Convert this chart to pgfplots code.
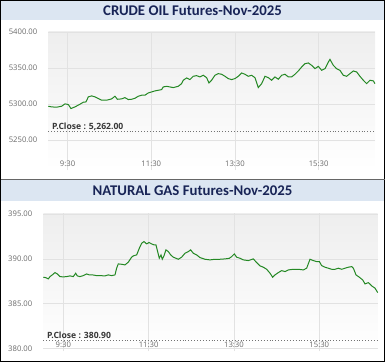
\documentclass[border=0pt]{standalone}
\usepackage{fontspec}
\setmainfont{Open Sans}
\newfontfamily\titlefont{Carlito}
\usepackage{pgfplots}
\pgfplotsset{compat=1.18}
\definecolor{titlebg}{RGB}{220,230,242}
\definecolor{titlefg}{RGB}{24,36,86}
\definecolor{linegreen}{RGB}{36,136,36}
\definecolor{gridc}{RGB}{226,226,226}
\definecolor{tickc}{RGB}{105,105,105}
\definecolor{pclose}{RGB}{55,55,55}
\definecolor{bgtop}{RGB}{238,238,238}
\pgfplotsset{
 panel/.style={
  scale only axis, clip=false,
  axis line style={draw=none},
  tick style={draw=none},
  grid=major, grid style={gridc, line width=0.6pt},
  axis background/.style={top color=bgtop, bottom color=white},
  xtick={30,150,270,390}, xticklabels={9:30,11:30,13:30,15:30},
  ticklabel style={font=\fontsize{7.7}{9}\selectfont, text=tickc},
  xticklabel style={anchor=center, yshift=6.5pt},
  yticklabel style={xshift=-7.5pt},
  /pgf/number format/assume math mode=true,
  /pgf/number format/fixed, /pgf/number format/fixed zerofill,
  /pgf/number format/precision=2,
  /pgf/number format/1000 sep={},
 }
}
\begin{document}
\begin{tikzpicture}
\path (0,0) rectangle (385pt,362pt);
\fill[titlebg] (0.5pt,341.5pt) rectangle (384.5pt,361.5pt);
\fill[titlebg] (0.5pt,161.5pt) rectangle (384.5pt,182pt);
\node[font=\titlefont\bfseries\fontsize{14.8}{16}\selectfont, text=titlefg] at (192.5pt,351.5pt) {CRUDE OIL Futures-Nov-2025};
\node[font=\titlefont\bfseries\fontsize{14.8}{16}\selectfont, text=titlefg] at (192.5pt,171.5pt) {NATURAL GAS Futures-Nov-2025};

\begin{axis}[panel, at={(48.3pt,192pt)}, anchor=south west,
  width=326.7pt, height=138.3pt,
  xmin=2.3, xmax=470.9, ymin=5208.5, ymax=5400.5,
  ytick={5250,5300,5350,5400}]
\addplot[pclose!70, dotted, line width=0.9pt] coordinates {(2.3,5262) (470.9,5262)};
\addplot[linegreen, line width=1pt] coordinates {
(2.3,5297.0) (7.1,5296.1) (14.2,5295.7) (21.4,5297.0) (26.2,5300.3) (31.0,5299.4) (34.8,5293.8) (40.5,5296.1) (47.7,5299.8) (52.5,5302.6) (56.3,5303.0) (59.7,5310.0) (64.4,5311.4) (69.2,5310.0) (74.0,5307.7) (78.8,5305.4) (86.0,5305.4) (93.1,5307.2) (97.9,5310.9) (101.3,5306.7) (107.4,5307.2) (112.2,5309.0) (117.0,5306.3) (121.8,5306.7) (126.6,5308.1) (131.4,5310.9) (136.1,5312.3) (140.9,5312.3) (145.7,5315.5) (150.5,5316.9) (155.3,5318.3) (160.0,5319.2) (164.8,5320.1) (167.2,5323.8) (172.0,5324.7) (176.8,5323.8) (181.5,5322.9) (188.7,5324.7) (193.5,5328.4) (195.9,5333.1) (200.7,5336.3) (205.4,5334.0) (210.2,5338.6) (215.0,5339.5) (219.8,5337.7) (224.6,5340.0) (229.4,5336.7) (232.7,5329.4) (236.5,5333.1) (241.3,5340.0) (246.1,5342.3) (250.9,5341.4) (255.7,5338.6) (260.4,5335.4) (265.2,5334.0) (270.0,5335.4) (274.8,5338.6) (279.6,5343.2) (284.4,5341.4) (289.1,5338.6) (293.9,5340.0) (298.7,5336.7) (303.5,5322.9) (308.3,5328.4) (313.1,5338.6) (317.9,5336.7) (322.6,5333.1) (327.4,5337.7) (332.2,5334.5) (337.0,5340.0) (341.8,5341.4) (346.6,5337.7) (351.3,5337.7) (356.1,5341.4) (360.9,5346.0) (365.7,5351.5) (370.5,5356.1) (375.3,5357.1) (380.0,5353.8) (384.8,5349.2) (389.6,5352.4) (394.4,5346.9) (399.2,5349.2) (404.0,5358.4) (406.3,5362.1) (411.1,5353.8) (415.8,5349.2) (420.6,5346.9) (425.4,5340.0) (430.2,5338.6) (435.0,5342.3) (439.8,5346.0) (444.6,5344.6) (449.3,5338.6) (454.1,5333.1) (458.9,5328.4) (463.7,5333.1) (468.5,5332.2) (470.9,5328.4)
};
\node[anchor=base west, font=\bfseries\fontsize{8.6}{10}\selectfont, text=pclose, inner sep=0pt, xshift=3.7pt, yshift=2pt] at (axis cs:2.3,5262) {P.Close : 5,262.00};
\end{axis}

\begin{axis}[panel, at={(43.3pt,11pt)}, anchor=south west,
  width=334.4pt, height=137.7pt,
  xmin=1.9, xmax=472.1, ymin=379.7, ymax=395.1,
  ytick={380,385,390,395}]
\addplot[pclose!70, dotted, line width=0.9pt] coordinates {(1.9,380.9) (472.1,380.9)};
\addplot[linegreen, line width=1pt] coordinates {
(1.9,387.95) (5.2,387.91) (8.9,387.76) (11.3,388.02) (14.5,388.21) (18.3,388.47) (21.6,388.32) (25.3,388.02) (30.0,387.99) (34.7,388.02) (39.4,388.10) (44.1,388.02) (47.4,388.40) (49.7,388.10) (53.4,388.02) (58.1,388.13) (62.8,388.32) (66.6,388.21) (71.3,388.21) (76.9,388.13) (81.6,388.13) (88.6,388.10) (93.3,388.21) (98.0,388.13) (102.7,388.21) (105.0,388.96) (107.3,389.44) (112.0,389.40) (116.7,389.33) (121.4,389.63) (126.1,390.19) (128.5,390.34) (133.2,390.45) (136.9,391.19) (140.2,391.75) (143.5,391.94) (147.2,391.68) (150.5,391.83) (154.2,391.68) (157.5,391.57) (160.3,391.57) (162.7,390.82) (165.0,390.07) (167.4,390.45) (169.2,389.96) (171.6,390.34) (174.4,391.01) (177.7,390.82) (181.0,390.45) (184.7,390.19) (188.5,390.07) (191.7,389.96) (196.4,390.19) (201.1,390.63) (205.8,390.82) (209.1,391.01) (212.8,390.63) (217.5,390.45) (222.2,390.15) (229.3,389.96) (236.3,389.89) (243.3,389.96) (250.4,389.96) (257.4,390.00) (263.5,390.07) (266.8,390.26) (270.5,390.56) (273.8,390.19) (278.5,390.07) (283.2,389.89) (290.2,389.81) (297.2,390.00) (301.9,389.59) (306.6,389.22) (311.3,389.07) (316.0,388.84) (320.7,388.40) (324.4,387.95) (327.7,388.21) (332.4,388.47) (337.1,388.69) (341.8,388.58) (346.5,388.77) (353.5,388.84) (360.5,388.84) (367.6,388.77) (372.2,388.96) (376.9,389.96) (381.6,389.81) (386.3,389.70) (390.1,389.70) (393.3,389.25) (398.0,389.07) (402.7,388.96) (407.4,388.84) (412.1,388.84) (416.8,388.96) (421.5,388.84) (426.2,388.96) (430.8,389.07) (435.5,389.14) (437.9,388.96) (441.6,388.21) (446.3,387.95) (451.0,387.65) (454.3,387.20) (459.0,387.35) (463.7,386.98) (468.4,386.72) (472.1,386.23)
};
\node[anchor=base west, font=\bfseries\fontsize{8.6}{10}\selectfont, text=pclose, inner sep=0pt, xshift=3.7pt, yshift=2pt] at (axis cs:1.9,380.9) {P.Close : 380.90};
\end{axis}
\draw[black, line width=1pt] (0.5pt,0.5pt) rectangle (384.5pt,361.5pt);
\draw[black!60, line width=0.6pt] (0.5pt,183pt) -- (384.5pt,183pt);
\end{tikzpicture}
\end{document}
